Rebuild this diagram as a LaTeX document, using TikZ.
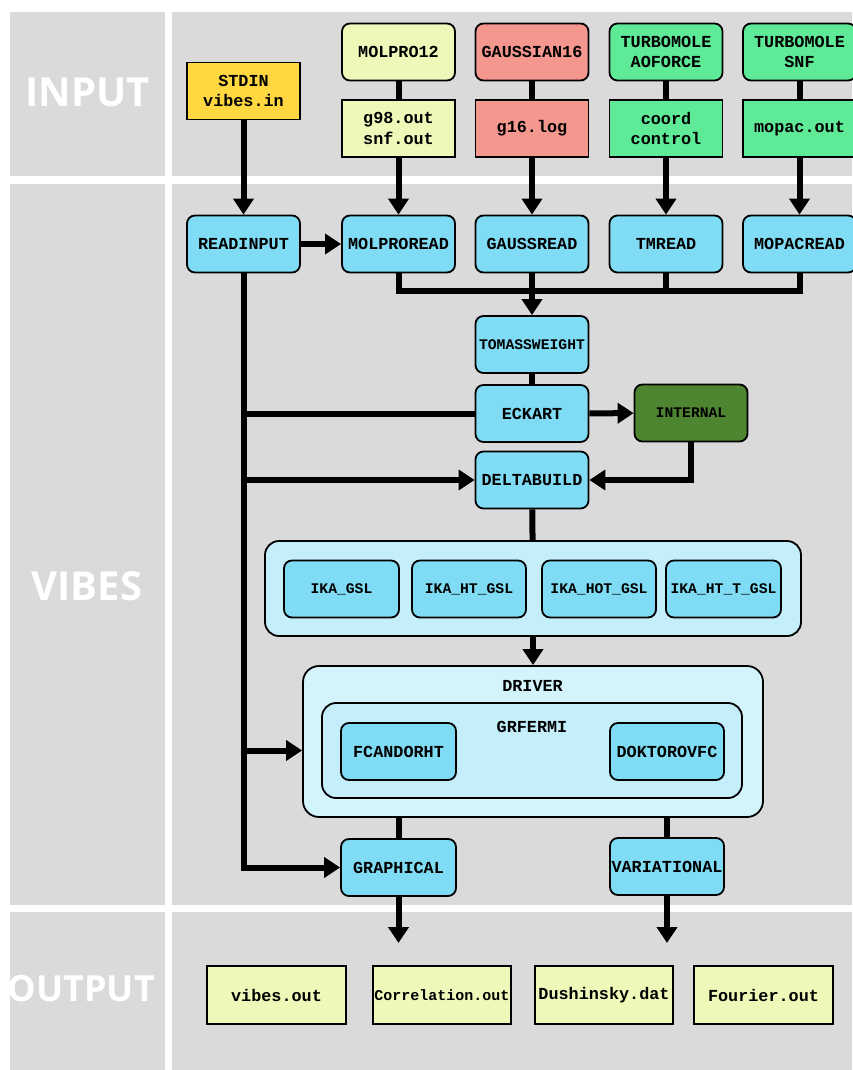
\documentclass[tikz,border=0pt]{standalone}
\usepackage{fontspec}
\setmainfont{Open Sans}
\setmonofont{Liberation Mono}
\usetikzlibrary{arrows.meta}

\definecolor{panelgray}{HTML}{DADADA}
\definecolor{stdinyellow}{HTML}{FFD740}
\definecolor{lightyellow}{HTML}{EEF8B8}
\definecolor{gaussred}{HTML}{F4978E}
\definecolor{tmgreen}{HTML}{5FEA98}
\definecolor{readblue}{HTML}{80DCF5}
\definecolor{ikablue}{HTML}{C3EEFA}
\definecolor{driverblue}{HTML}{D4F4FC}
\definecolor{internalgreen}{HTML}{4E8530}

\begin{document}
\begin{tikzpicture}[x=1pt,y=-1pt,->,>={Triangle[length=16pt,width=20pt]},line width=6pt,
    box/.style={draw,line width=1.8pt,minimum width=113pt,minimum height=57pt,inner sep=0pt,
                align=center,font=\ttfamily\bfseries\fontsize{16.8}{20.5}\selectfont},
    prog node/.style={box,rounded corners=8pt},
    file node/.style={box},
    read node/.style={box,rounded corners=8pt,fill=readblue},
    small/.style={font=\ttfamily\bfseries\fontsize{14.7}{18}\selectfont},
    out node/.style={box,fill=lightyellow,minimum height=58pt},
    frame node/.style={draw,line width=1.8pt,inner sep=0pt},
    panel label/.style={text=white,font=\bfseries\fontsize{40}{40}\selectfont}]

  % background and panels
  \fill[white] (0,0) rectangle (852,1070);
  \useasboundingbox (0,0) rectangle (852,1070);
  \fill[panelgray] (10,12) rectangle (165,176);
  \fill[panelgray] (172,12) rectangle (852,176);
  \fill[panelgray] (10,184) rectangle (165,905);
  \fill[panelgray] (172,184) rectangle (852,905);
  \fill[panelgray] (10,912) rectangle (165,1070);
  \fill[panelgray] (172,912) rectangle (852,1070);

  \node[panel label] (inputlabel) at (87.5,92) {INPUT};
  \node[panel label] (vibeslabel) at (87,586) {VIBES};
  \node[panel label,anchor=east,inner sep=0pt,font=\bfseries\fontsize{36}{36}\selectfont] (outputlabel) at (158,989) {OUTPUT};

  % input
  \node[file node,fill=stdinyellow] (stdin) at (243.5,91) {STDIN\\vibes.in};
  \node[prog node,fill=lightyellow] (molpro) at (398.5,52) {MOLPRO12};
  \node[file node,fill=lightyellow] (molprofile) at (398.5,128.5) {g98.out\\snf.out};
  \node[prog node,fill=gaussred] (gauss) at (532,52) {GAUSSIAN16};
  \node[file node,fill=gaussred] (gaussfile) at (532,128.5) {g16.log};
  \node[prog node,fill=tmgreen] (aoforce) at (666,52) {TURBOMOLE\\AOFORCE};
  \node[file node,fill=tmgreen] (tmfile) at (666,128.5) {coord\\control};
  \node[prog node,fill=tmgreen] (snf) at (799.5,52) {TURBOMOLE\\SNF};
  \node[file node,fill=tmgreen] (snffile) at (799.5,128.5) {mopac.out};

  % readers
  \node[read node] (readinput) at (243.5,244) {READINPUT};
  \node[read node] (molproread) at (398.5,244) {MOLPROREAD};
  \node[read node] (gaussread) at (532,244) {GAUSSREAD};
  \node[read node] (tmread) at (666,244) {TMREAD};
  \node[read node] (mopacread) at (799.5,244) {MOPACREAD};

  \node[read node,small] (tomass) at (532,344.5) {TOMASSWEIGHT};
  \node[read node] (eckart) at (532,413.5) {ECKART};
  \node[read node] (deltabuild) at (532,480) {DELTABUILD};
  \node[prog node,small,fill=internalgreen] (internal) at (691,413) {INTERNAL};

  % IKA block
  \node[frame node,rounded corners=14pt,fill=ikablue,minimum width=536pt,minimum height=95pt] (ika) at (533,588.5) {};
  \node[read node,small,minimum width=115pt] (ikagsl) at (341.5,589) {IKA\_GSL};
  \node[read node,small,minimum width=114pt] (ikahtgsl) at (469,589) {IKA\_HT\_GSL};
  \node[read node,small,minimum width=114pt] (ikahotgsl) at (599,589) {IKA\_HOT\_GSL};
  \node[read node,small,minimum width=115pt] (ikahttgsl) at (723.5,589) {IKA\_HT\_T\_GSL};

  % driver block
  \node[frame node,rounded corners=16pt,fill=driverblue,minimum width=460pt,minimum height=151pt] (driver) at (533,741.5) {};
  \node[box,draw=none] (driverlabel) at (532.5,686) {DRIVER};
  \node[frame node,rounded corners=14pt,fill=ikablue,minimum width=420pt,minimum height=95pt] (grfermi) at (532,750.5) {};
  \node[box,draw=none] (grfermilabel) at (532,727) {GRFERMI};
  \node[read node,minimum width=115pt] (fcandorht) at (398.5,751.5) {FCANDORHT};
  \node[read node,minimum width=114pt] (doktorovfc) at (667,751.5) {DOKTOROVFC};
  \node[read node,minimum width=115pt] (graphical) at (398.5,867.5) {GRAPHICAL};
  \node[read node,minimum width=114pt] (variational) at (667,866.5) {VARIATIONAL};

  % output
  \node[out node,minimum width=139pt] (vibesout) at (276.5,995) {vibes.out};
  \node[out node,minimum width=138pt,font=\ttfamily\bfseries\fontsize{15}{18}\selectfont] (corrout) at (442,995) {Correlation.out};
  \node[out node,minimum width=138pt] (dushout) at (604,995) {Dushinsky.dat};
  \node[out node,minimum width=139pt] (fourout) at (763.5,995) {Fourier.out};

  \coordinate (bus) at (532,291);
  \coordinate (drvin) at (driver.west |- grfermi.west);
  \coordinate (graphend) at (398.5,943);
  \coordinate (varend) at (667,943);

  \path
    (molpro) edge[-] (molprofile)
    (gauss) edge[-] (gaussfile)
    (aoforce) edge[-] (tmfile)
    (snf) edge[-] (snffile)
    (stdin) edge (readinput)
    (molprofile) edge (molproread)
    (gaussfile) edge (gaussread)
    (tmfile) edge (tmread)
    (snffile) edge (mopacread)
    (readinput) edge (molproread)
    (tomass) edge[-] (eckart)
    (eckart) edge (internal)
    (deltabuild) edge[-] (ika)
    (ika) edge (driver)
    (graphical) edge (graphend)
    (variational) edge (varend);

  % collecting the readers
  \draw[-] (molproread) |- (bus) -| (mopacread);
  \draw[-] (gaussread) -- (bus);
  \draw[-] (tmread) |- (bus);
  \draw (bus) -- (tomass);

  % trunk from READINPUT
  \draw[-] (readinput) |- (eckart);
  \draw (readinput) |- (deltabuild);
  \draw (readinput) |- (drvin);
  \draw (readinput) |- (graphical);
  \draw (internal) |- (deltabuild);

  \draw[-] (driver.south -| graphical) -- (graphical);
  \draw[-] (driver.south -| variational) -- (variational);
\end{tikzpicture}
\end{document}
